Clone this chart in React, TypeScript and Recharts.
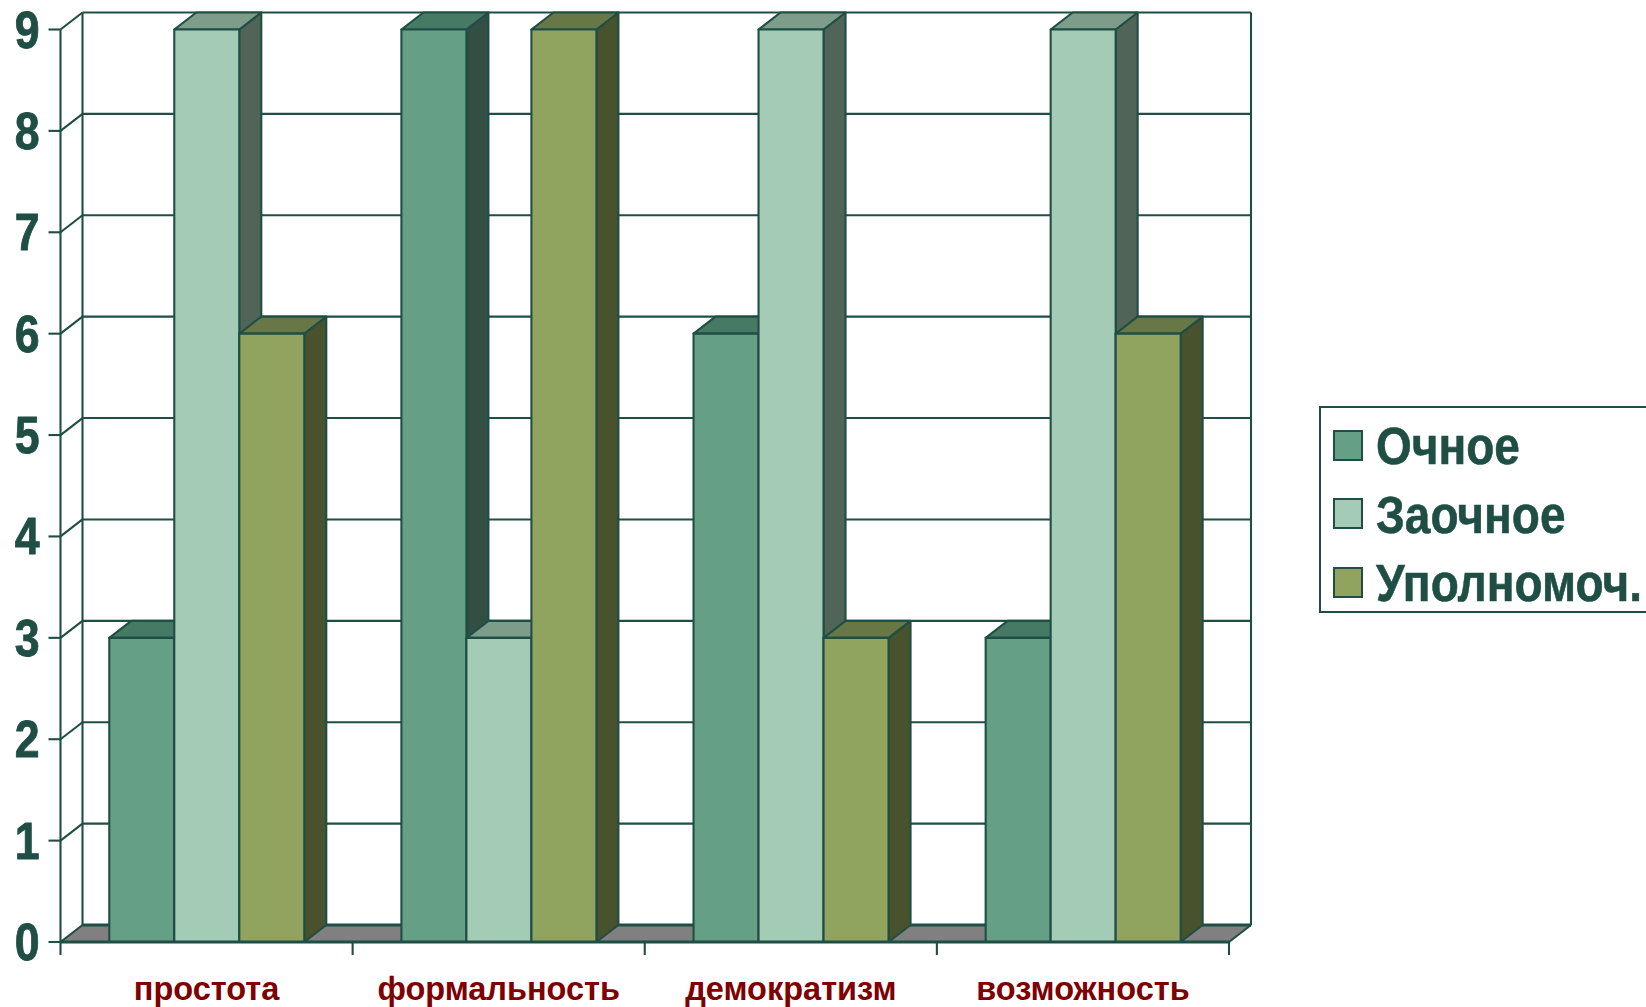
import { Bar, BarChart, CartesianGrid, Legend, XAxis, YAxis } from "recharts";

const categories = ["простота", "формальность", "демократизм", "возможность"];
const ochnoe = [3, 9, 6, 3];
const zaochnoe = [9, 3, 9, 9];
const upolnomoch = [6, 9, 3, 6];
const valueTicks = [0, 1, 2, 3, 4, 5, 6, 7, 8, 9];

const data = categories.map((name, i) => ({
  name,
  ochnoe: ochnoe[i],
  zaochnoe: zaochnoe[i],
  upolnomoch: upolnomoch[i],
}));

const WIDTH = 1646;
const HEIGHT = 1007;
const LEFT = 60.5;
const RIGHT = 1229;
const TOP = 29.5;
const BOTTOM = 942;
// offset of the back wall from the front plane
const DX = 22;
const DY = 17;

const INK = "#1F4E44";
const FONT = "'Liberation Sans', Arial, sans-serif";
const LINE = 2.1;

function Box3D(props: any) {
  const { x, y, width, height, fill, topFill, sideFill } = props;
  const r = x + width;
  const b = y + height;
  return (
    <g stroke={INK} strokeWidth={LINE} strokeLinejoin="round">
      <polygon
        points={`${r},${y} ${r + DX},${y - DY} ${r + DX},${b - DY} ${r},${b}`}
        fill={sideFill}
      />
      <polygon
        points={`${x},${y} ${x + DX},${y - DY} ${r + DX},${y - DY} ${r},${y}`}
        fill={topFill}
      />
      <rect x={x} y={y} width={width} height={height} fill={fill} />
    </g>
  );
}

function WallLine(props: any) {
  const { y1 } = props;
  const isFloor = Math.abs(y1 - BOTTOM) < 1;
  const isTop = Math.abs(y1 - TOP) < 1;
  return (
    <g stroke={INK} strokeWidth={LINE} fill="none">
      {isFloor && (
        <polygon
          points={`${LEFT},${BOTTOM} ${LEFT + DX},${BOTTOM - DY} ${RIGHT + DX},${BOTTOM - DY} ${RIGHT},${BOTTOM}`}
          fill="#808080"
          stroke="none"
        />
      )}
      {isTop && (
        <>
          <line x1={LEFT + DX} y1={TOP - DY} x2={LEFT + DX} y2={BOTTOM - DY} />
          <line x1={RIGHT + DX} y1={TOP - DY} x2={RIGHT + DX} y2={BOTTOM - DY} />
        </>
      )}
      <line x1={LEFT + DX} y1={y1 - DY} x2={RIGHT + DX} y2={y1 - DY} strokeWidth={isFloor ? 3.2 : LINE} />
      <line x1={LEFT} y1={y1} x2={LEFT + DX} y2={y1 - DY} />
      {isFloor && <line x1={RIGHT} y1={BOTTOM} x2={RIGHT + DX} y2={BOTTOM - DY} />}
    </g>
  );
}

function ValueTick(props: any) {
  const { x, y, payload } = props;
  return (
    <text
      transform={`translate(${x},${y + 18}) scale(0.95,1.12)`}
      textAnchor="end"
      fontFamily={FONT}
      fontWeight="bold"
      fontSize={47}
      fill={INK}
      stroke={INK}
      strokeWidth={0.8}
    >
      {payload.value}
    </text>
  );
}

function CategoryTick(props: any) {
  const { x, y, payload, index } = props;
  const band = (RIGHT - LEFT) / categories.length;
  const edge = x - band / 2;
  return (
    <g>
      <line x1={edge} y1={BOTTOM} x2={edge} y2={BOTTOM + 13} stroke={INK} strokeWidth={LINE} />
      {index === categories.length - 1 && (
        <line x1={x + band / 2} y1={BOTTOM} x2={x + band / 2} y2={BOTTOM + 13} stroke={INK} strokeWidth={LINE} />
      )}
      <text
        x={x}
        y={y + 50}
        textAnchor="middle"
        fontFamily={FONT}
        fontWeight="bold"
        fontSize={32.5}
        fill="#7F0000"
      >
        {payload.value}
      </text>
    </g>
  );
}

function LegendBox({ payload }: any) {
  return (
    <div
      style={{
        width: 340,
        height: 207,
        boxSizing: "border-box",
        border: `2px solid ${INK}`,
        background: "#fff",
        paddingLeft: 12,
        paddingTop: 4,
      }}
    >
      {(payload || []).map((item: any) => (
        <div
          key={item.value}
          style={{
            display: "flex",
            alignItems: "center",
            height: 68.5,
            fontFamily: FONT,
            fontWeight: "bold",
            fontSize: 46,
            color: INK,
            whiteSpace: "nowrap",
          }}
        >
          <span
            style={{
              width: 30,
              height: 31,
              boxSizing: "border-box",
              border: `2px solid ${INK}`,
              background: item.color,
              marginRight: 13,
              marginTop: -2,
            }}
          />
          <span
            style={{
              display: "inline-block",
              transformOrigin: "left center",
              transform: "scale(1,1.12)",
              WebkitTextStroke: `0.5px ${INK}`,
            }}
          >
            {item.value}
          </span>
        </div>
      ))}
    </div>
  );
}

export default function App() {
  return (
    <div style={{ position: "absolute", left: 0, top: 0, width: WIDTH, height: HEIGHT, overflow: "hidden", background: "#fff" }}>
      <BarChart
        width={WIDTH}
        height={HEIGHT}
        data={data}
        margin={{ top: TOP, right: WIDTH - RIGHT, left: 0.5, bottom: 0 }}
        barCategoryGap="16.7%"
        barGap={0}
      >
        <CartesianGrid vertical={false} horizontal={(p: any) => <WallLine key={p.key ?? p.y1} {...p} />} />
        <XAxis
          dataKey="name"
          height={HEIGHT - BOTTOM}
          axisLine={{ stroke: INK, strokeWidth: 3 }}
          tickLine={false}
          interval={0}
          tick={<CategoryTick />}
        />
        <YAxis
          width={60}
          domain={[0, 9]}
          ticks={valueTicks}
          interval={0}
          axisLine={{ stroke: INK, strokeWidth: LINE }}
          tickLine={{ stroke: INK, strokeWidth: LINE }}
          tickSize={12}
          tickMargin={9}
          tick={<ValueTick />}
        />
        <Legend
          layout="vertical"
          align="center"
          verticalAlign="middle"
          itemSorter={null}
          wrapperStyle={{ left: 1319, top: 406, right: "auto", width: 340 }}
          content={<LegendBox />}
        />
        <Bar
          dataKey="ochnoe"
          name="Очное"
          fill="#659F85"
          isAnimationActive={false}
          shape={<Box3D topFill="#477A65" sideFill="#324F43" />}
        />
        <Bar
          dataKey="zaochnoe"
          name="Заочное"
          fill="#A4CBB6"
          isAnimationActive={false}
          shape={<Box3D topFill="#7D9C8A" sideFill="#506557" />}
        />
        <Bar
          dataKey="upolnomoch"
          name="Уполномоч."
          fill="#90A35F"
          isAnimationActive={false}
          shape={<Box3D topFill="#677746" sideFill="#48532E" />}
        />
      </BarChart>
    </div>
  );
}
